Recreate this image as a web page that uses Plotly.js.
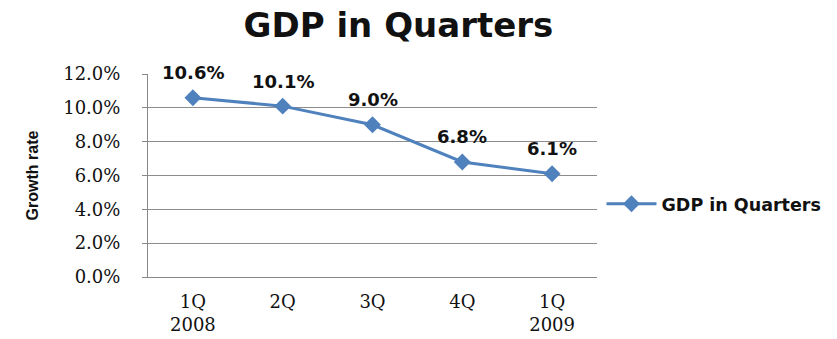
<!DOCTYPE html>
<html><head><meta charset="utf-8">
<script src="https://cdn.plot.ly/plotly-3.0.1.min.js"></script>
<style>html,body{margin:0;padding:0;background:#fff;}</style>
</head><body>
<div id="chart" style="width:837px;height:339px;"></div>
<script>
const categories = ["1Q<br>2008", "2Q", "3Q", "4Q", "1Q<br>2009"];
const growth = [10.6, 10.1, 9.0, 6.8, 6.1];
const labels = ["10.6%", "10.1%", "9.0%", "6.8%", "6.1%"];
const yTicks = [0, 2, 4, 6, 8, 10, 12];
const yTickText = ["0.0%", "2.0%", "4.0%", "6.0%", "8.0%", "10.0%", "12.0%"];

const trace = {
  x: categories, y: growth, type: "scatter", mode: "lines+markers",
  name: "GDP in Quarters",
  line: {color: "#4F81BD", width: 3},
  marker: {symbol: "diamond", size: 13, color: "#4F81BD"},
  hoverinfo: "skip"
};
const annotations = categories.map((c, i) => ({
  x: c, y: growth[i], xref: "x", yref: "y", text: labels[i],
  showarrow: false, yshift: 25,
  font: {family: "DejaVu Sans, sans-serif", size: 18, color: "#111", weight: "bold"}
}));
const layout = {
  width: 837, height: 339,
  margin: {l: 148, r: 240, t: 74, b: 62, pad: 0, autoexpand: false},
  paper_bgcolor: "#fff", plot_bgcolor: "#fff",
  title: {text: "<b>GDP in Quarters</b>", x: 0.476, xanchor: "center", y: 0.925, yanchor: "middle",
          font: {family: "DejaVu Sans, sans-serif", size: 34, color: "#111"}},
  xaxis: {type: "category", range: [-0.5, 4.5], showgrid: false, showline: true, linecolor: "#888", linewidth: 1,
          ticks: "outside", ticklen: 0, ticklabelstandoff: 8, automargin: false,
          tickfont: {family: "DejaVu Serif, serif", size: 18, color: "#111"},
          fixedrange: true},
  yaxis: {range: [0, 12], tickvals: yTicks, ticktext: yTickText, showgrid: true, gridcolor: "#8c8c8c", gridwidth: 1,
          showline: true, linecolor: "#888", linewidth: 1, ticks: "outside", ticklen: 5, tickcolor: "#888",
          ticklabelstandoff: 18, automargin: false,
          tickfont: {family: "DejaVu Serif, serif", size: 18, color: "#111"},
          title: {text: "<b>Growth rate</b>", standoff: 20, font: {family: "Liberation Sans Narrow, sans-serif", size: 16, color: "#111"}},
          zeroline: false, fixedrange: true},
  showlegend: true,
  legend: {x: 1.01, xanchor: "left", y: 0.36, yanchor: "middle", bgcolor: "rgba(0,0,0,0)",
           font: {family: "DejaVu Sans, sans-serif", size: 17.5, color: "#111", weight: "bold"}, itemwidth: 50},
  annotations: annotations
};
Plotly.newPlot("chart", [trace], layout, {displayModeBar: false, staticPlot: true});
</script>
</body></html>
